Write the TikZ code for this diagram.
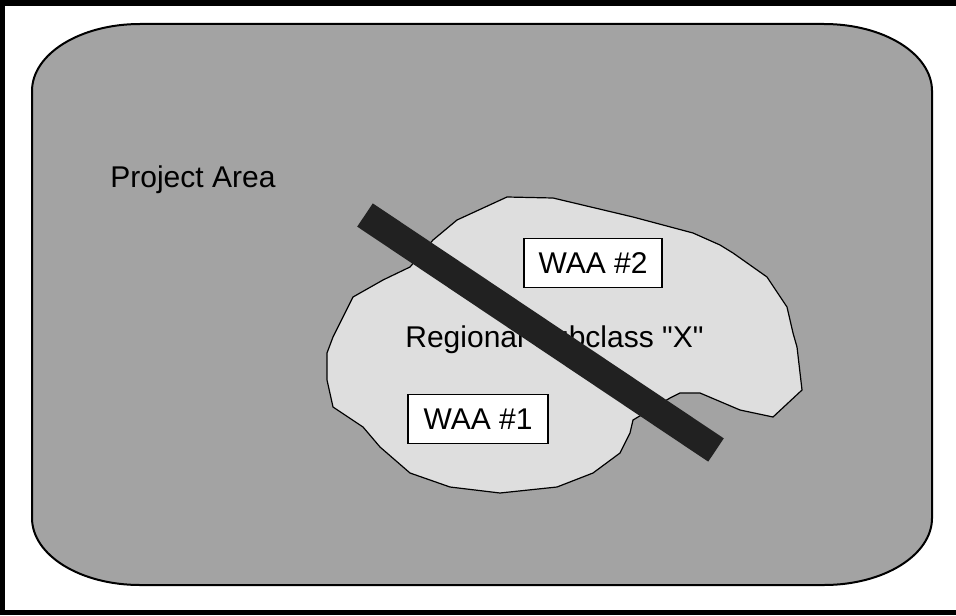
\documentclass[tikz,border=0pt]{standalone}
\usepackage{fontspec}
\setmainfont{Liberation Sans}
\newfontfamily\plainsans{Liberation Sans}
\usepackage{tikz}
\usetikzlibrary{positioning,calc}

\definecolor{areagray}{gray}{0.64}
\definecolor{blobgray}{gray}{0.87}
\definecolor{bargray}{gray}{0.13}

\begin{document}
\begin{tikzpicture}[x=0.5pt, y=-0.5pt,
    label/.style={font=\plainsans\fontsize{15}{18}\selectfont, inner sep=0pt},
    waabox/.style={draw, line width=0.8pt, fill=white, font=\fontsize{15}{18}\selectfont,
        minimum width=69pt, minimum height=24.5pt, inner sep=0pt}]
    \useasboundingbox (0,0) rectangle (956,615);
    \fill[white] (0,0) rectangle (956,615);

    % frame of the scan
    \fill[black] (0,0) rectangle (956,6);
    \fill[black] (0,0) rectangle (5,615);
    \fill[black] (0,610) rectangle (956,615);

    % project area
    \draw[line width=1pt, fill=areagray] (32,91) .. controls (32,54) and (80,24) .. (140,24)
        -- (824,24) .. controls (884,24) and (932,54) .. (932,91)
        -- (932,518) .. controls (932,555) and (884,585) .. (824,585)
        -- (140,585) .. controls (80,585) and (32,555) .. (32,518) -- cycle;
    \node[label, anchor=base west] (project) at (110,187) {Project Area};

    % regional subclass
    \draw[line width=0.6pt, fill=blobgray] (507,197) -- (553,198) -- (633,217) -- (693,233)
        -- (720,245) -- (733,253) -- (767,277) -- (787,307) -- (793,333) -- (797,347)
        -- (802,390) -- (773,417) -- (740,410) -- (700,393) -- (680,393) -- (670,398)
        -- (633,420) -- (630,433) -- (620,453) -- (593,473) -- (557,487) -- (500,493)
        -- (450,487) -- (410,473) -- (380,447) -- (363,427) -- (333,407) -- (327,380)
        -- (327,353) -- (333,337) -- (353,297) -- (383,280) -- (410,267) -- (433,240)
        -- (457,220) -- cycle;
    \node[label, anchor=base west] (subclass) at (405,347) {Regional Subclass "X"};

    \node[waabox] (waa2) at (593,263) {WAA \#2};
    \node[waabox, minimum width=70pt] (waa1) at (478,419) {WAA \#1};

    % the bar across
    \coordinate (barstart) at (365,215);
    \coordinate (barend) at (716,450);
    \draw[bargray, line width=14pt] (barstart) -- (barend);
\end{tikzpicture}
\end{document}
